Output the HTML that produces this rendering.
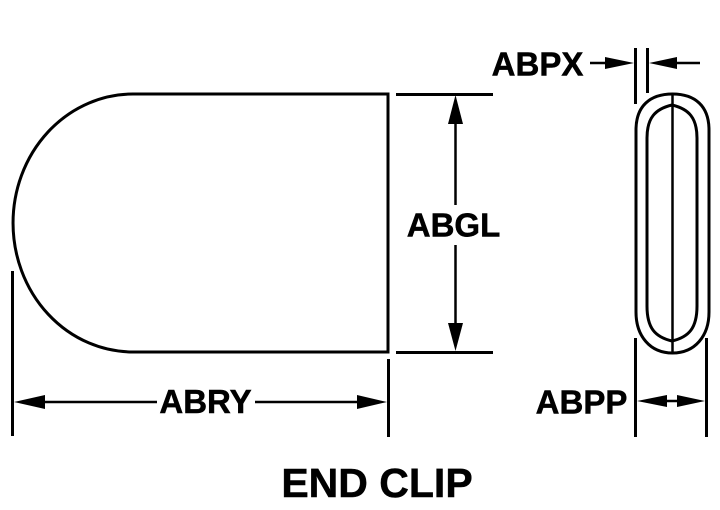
<!DOCTYPE html>
<html>
<head>
<meta charset="utf-8">
<style>
  html, body { margin: 0; padding: 0; background: #fff; }
  body { width: 720px; height: 510px; overflow: hidden; }
  svg { display: block; }
  text { font-family: "Liberation Sans", Arial, sans-serif; font-weight: bold; fill: #000; stroke: #000; stroke-width: 0.5; }
</style>
</head>
<body>
<svg width="720" height="510" viewBox="0 0 720 510" xmlns="http://www.w3.org/2000/svg">
  <!-- Main end clip profile -->
  <path d="M388,94 L133,94 A120,129 0 0 0 133,352 L388,352 Z" fill="none" stroke="#000" stroke-width="3"/>

  <!-- Extension lines for ABGL -->
  <line x1="396" y1="94.5" x2="493" y2="94.5" stroke="#000" stroke-width="3"/>
  <line x1="396" y1="352.5" x2="493" y2="352.5" stroke="#000" stroke-width="3"/>

  <!-- ABGL dimension -->
  <line x1="455.5" y1="120" x2="455.5" y2="205" stroke="#000" stroke-width="2.5"/>
  <line x1="455.5" y1="245" x2="455.5" y2="326" stroke="#000" stroke-width="2.5"/>
  <polygon points="455.5,95 448,124 463,124" fill="#000"/>
  <polygon points="455.5,351 448,323 463,323" fill="#000"/>
  <text x="453.5" y="236.5" font-size="33" text-anchor="middle">ABGL</text>

  <!-- Extension lines for ABRY -->
  <line x1="12.5" y1="271" x2="12.5" y2="436" stroke="#000" stroke-width="3"/>
  <line x1="388.5" y1="359" x2="388.5" y2="437" stroke="#000" stroke-width="3"/>

  <!-- ABRY dimension -->
  <line x1="40" y1="402" x2="157" y2="402" stroke="#000" stroke-width="2.5"/>
  <line x1="255" y1="402" x2="362" y2="402" stroke="#000" stroke-width="2.5"/>
  <polygon points="14,402 45,395 45,409" fill="#000"/>
  <polygon points="387,402 357,395 357,409" fill="#000"/>
  <text x="205.5" y="413" font-size="33" text-anchor="middle">ABRY</text>

  <!-- Side view of clip: outer -->
  <path d="M636,130 C636,106 650,94 672.5,94 C695,94 709,106 709,130 L709,312 C709,336 695,353 672.5,353 C650,353 636,336 636,312 Z" fill="none" stroke="#000" stroke-width="3"/>
  <!-- inner -->
  <path d="M647,138 C647,118 655,109 672,105 C689,109 697,118 697,138 L697,306 C697,328 689,337 672,341 C655,337 647,328 647,306 Z" fill="none" stroke="#000" stroke-width="3"/>
  <!-- center line -->
  <line x1="672.5" y1="94" x2="672.5" y2="353" stroke="#000" stroke-width="2.5"/>

  <!-- ABPX extension lines -->
  <line x1="635.5" y1="48" x2="635.5" y2="104" stroke="#000" stroke-width="3"/>
  <line x1="647.5" y1="48" x2="647.5" y2="93" stroke="#000" stroke-width="3"/>
  <!-- ABPX arrows -->
  <line x1="590" y1="63" x2="608" y2="63" stroke="#000" stroke-width="2.5"/>
  <polygon points="634,63 605,57 605,69" fill="#000"/>
  <line x1="674" y1="63" x2="700" y2="63" stroke="#000" stroke-width="2.5"/>
  <polygon points="649,63 677,57 677,69" fill="#000"/>
  <text x="537.5" y="75.5" font-size="33" text-anchor="middle">ABPX</text>

  <!-- ABPP extension lines -->
  <line x1="635.5" y1="338" x2="635.5" y2="437" stroke="#000" stroke-width="3"/>
  <line x1="706.5" y1="338" x2="706.5" y2="437" stroke="#000" stroke-width="3"/>
  <!-- ABPP arrows -->
  <line x1="660" y1="401" x2="684" y2="401" stroke="#000" stroke-width="2.5"/>
  <polygon points="637,401 667,395 667,407" fill="#000"/>
  <polygon points="705,401 677,395 677,407" fill="#000"/>
  <text x="581.5" y="413.5" font-size="33" text-anchor="middle">ABPP</text>

  <!-- Title -->
  <text x="377" y="497" font-size="41" text-anchor="middle">END CLIP</text>
</svg>
</body>
</html>
